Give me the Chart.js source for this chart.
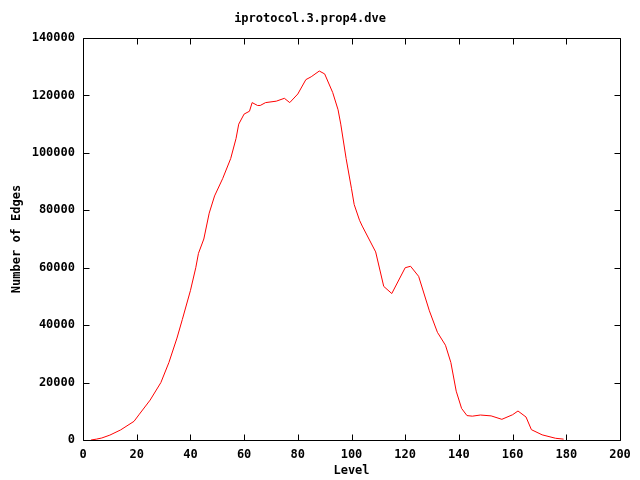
<!DOCTYPE html>
<html>
<head>
<meta charset="utf-8">
<script src="https://cdn.jsdelivr.net/npm/chart.js@4"></script>
<style>
  html, body { margin: 0; padding: 0; background: #fff; }
  #wrap { width: 640px; height: 480px; }
</style>
</head>
<body>
<div id="wrap"><canvas id="grafic"></canvas></div>
<script>
// dades llegides del gràfic
const levels = [3, 5, 7, 10, 14, 19, 21, 25, 29, 32, 35, 37, 40, 42, 43, 45, 47, 49, 52, 55,
  57, 58, 60, 62, 63, 65, 66, 68, 72, 75, 77, 80, 83, 85, 88, 90, 93, 95, 96, 98,
  100, 101, 103, 104, 109, 112, 115, 120, 122, 125, 129, 132, 135, 137, 139, 141, 143, 145, 148, 152,
  156, 160, 162, 165, 167, 171, 176, 179];
const edges = [0, 300, 700, 1700, 3500, 6500, 9000, 13900, 20000, 27000, 35500, 42000, 52000, 60000, 65000, 70000, 79000, 85000, 91000, 98000,
  105000, 110000, 113500, 114500, 117500, 116500, 116500, 117500, 118000, 119000, 117500, 120500, 125500, 126500, 128500, 127500, 121000, 115000, 110000, 98000,
  87500, 82000, 76500, 74500, 65500, 53500, 51000, 60000, 60500, 57000, 45000, 37500, 33000, 27000, 17000, 11000, 8500, 8300, 8700, 8400,
  7200, 8800, 10100, 8000, 3600, 1800, 600, 300];
const xTicks = [0, 20, 40, 60, 80, 100, 120, 140, 160, 180, 200];
const yTicks = [0, 20000, 40000, 60000, 80000, 100000, 120000, 140000];

const punts = levels.map((l, i) => ({ x: l, y: edges[i] }));
const fontMono = "'DejaVu Sans Mono', 'Liberation Mono', monospace";

// marc i marques cap a dins, estil gnuplot
const marcPlugin = {
  id: 'marc',
  afterDatasetsDraw(chart) {
    const ctx = chart.ctx;
    const a = chart.chartArea;
    const l = Math.round(a.left) + 0.5, r = Math.round(a.right) + 0.5;
    const t = Math.round(a.top) + 0.5, b = Math.round(a.bottom) + 0.5;
    ctx.save();
    ctx.strokeStyle = '#000';
    ctx.lineWidth = 1;
    ctx.beginPath();
    ctx.rect(l, t, r - l, b - t);
    xTicks.forEach(v => {
      const px = Math.round(chart.scales.x.getPixelForValue(v)) + 0.5;
      ctx.moveTo(px, b); ctx.lineTo(px, b - 6);
      ctx.moveTo(px, t); ctx.lineTo(px, t + 6);
    });
    yTicks.forEach(v => {
      const py = Math.round(chart.scales.y.getPixelForValue(v)) + 0.5;
      ctx.moveTo(l, py); ctx.lineTo(l + 6, py);
      ctx.moveTo(r, py); ctx.lineTo(r - 6, py);
    });
    ctx.stroke();
    ctx.restore();
  }
};

const ctx = document.getElementById('grafic').getContext('2d');
const grafic = new Chart(ctx, {
  type: 'line',
  data: {
    datasets: [{
      label: 'edges',
      data: punts,
      borderColor: '#ff0000',
      borderWidth: 1,
      pointRadius: 0,
      tension: 0,
      fill: false
    }]
  },
  options: {
    responsive: true,
    maintainAspectRatio: false,
    animation: false,
    layout: { padding: { left: 0, right: 20, top: 0, bottom: 0 } },
    plugins: {
      legend: { display: false },
      tooltip: { enabled: false },
      title: {
        display: true,
        text: 'iprotocol.3.prop4.dve',
        color: '#000',
        font: { family: fontMono, size: 12, weight: 'bold' },
        padding: { top: 12, bottom: 11.6 }
      }
    },
    scales: {
      x: {
        type: 'linear',
        min: 0,
        max: 200,
        afterBuildTicks: s => { s.ticks = xTicks.map(v => ({ value: v })); },
        afterFit: s => { s.height = 40; },
        grid: { display: false, drawTicks: false },
        border: { display: false },
        ticks: {
          color: '#000',
          padding: 8,
          maxRotation: 0,
          font: { family: fontMono, size: 12, weight: 'bold' },
          callback: v => String(v)
        },
        title: {
          display: true,
          text: 'Level',
          color: '#000',
          font: { family: fontMono, size: 12, weight: 'bold' },
          padding: { top: 0, bottom: 2 }
        }
      },
      y: {
        min: 0,
        max: 140000,
        afterBuildTicks: s => { s.ticks = yTicks.map(v => ({ value: v })); },
        afterFit: s => { s.width = 83; },
        grid: { display: false, drawTicks: false },
        border: { display: false },
        ticks: {
          color: '#000',
          padding: 8,
          font: { family: fontMono, size: 12, weight: 'bold' },
          callback: v => String(v)
        },
        title: {
          display: true,
          text: 'Number of Edges',
          color: '#000',
          font: { family: fontMono, size: 12, weight: 'bold' },
          padding: { top: 10, bottom: 0 }
        }
      }
    }
  },
  plugins: [marcPlugin]
});
</script>
</body>
</html>
